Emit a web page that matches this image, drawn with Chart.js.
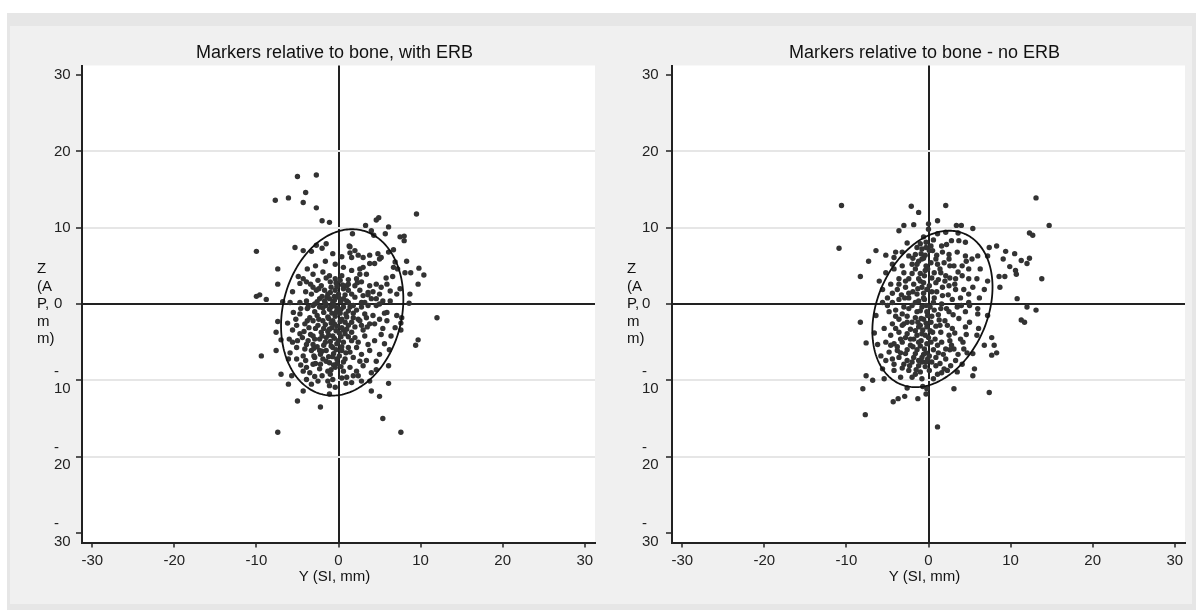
<!DOCTYPE html>
<html>
<head>
<meta charset="utf-8">
<title>Markers relative to bone</title>
<script src="https://cdn.jsdelivr.net/npm/chart.js"></script>
<style>
body { margin: 0; background: #fff; font-family: "Liberation Sans", Arial, sans-serif; }
#frame { position: absolute; left: 7px; top: 13px; width: 1189px; height: 597px; background: #e6e6e6; }
#inner { position: absolute; left: 10px; top: 26px; width: 1182px; height: 578px; background: #f0f0f0; }
.panel { position: absolute; top: 26px; height: 578px; }
#leftPanel { left: 10px; width: 590px; }
#rightPanel { left: 600px; width: 592px; }
</style>
</head>
<body>
<div id="frame"></div>
<div id="inner"></div>
<div class="panel" id="leftPanel"><canvas id="chartErb"></canvas></div>
<div class="panel" id="rightPanel"><canvas id="chartNoErb"></canvas></div>
<script>
var axisTicks = [-30, -20, -10, 0, 10, 20, 30];
var axisMin = -31.25;
var axisMax = 31.25;
var panelTitles = ['Markers relative to bone, with ERB', 'Markers relative to bone - no ERB'];
var xTitle = 'Y (SI, mm)';
var yTitleLines = ['Z', '(A', 'P,', 'm', 'm)'];

// marker offsets [Y, Z] in mm, with ERB
var erbPoints = [
  [-5.0,16.7],[-2.7,16.9],[-4.0,14.6],[-7.7,13.6],[-6.1,13.9],[-4.3,13.3],[-2.7,12.6],[-2.0,10.9],[-1.1,10.7],
  [9.5,11.8],[4.6,11.0],[4.9,11.3],[3.3,10.3],[4.0,9.6],[6.1,10.1],[1.7,9.2],[7.5,8.8],[8.0,8.9],[8.0,8.3],
  [5.7,9.2],[4.3,9.0],[-10.0,6.9],[-7.4,4.6],[8.3,5.6],[8.8,4.1],[9.8,4.7],[10.4,3.8],[8.1,4.1],
  [6.7,7.1],[6.6,3.6],[5.2,6.1],[-3.3,6.9],[-2.0,7.3],[1.3,7.6],
  [-5.3,7.4],[-4.3,7.0],[-2.7,7.7],[-1.5,7.9],[-0.7,6.6],[0.4,6.2],[1.4,7.5],[1.4,6.7],[2.0,7.0],[1.6,6.1],
  [2.4,6.4],[3.0,6.1],[3.8,6.4],[4.8,6.6],[5.0,5.9],[4.4,5.3],[3.8,5.3],[6.1,6.8],[6.9,5.5],[6.7,4.8],[7.2,4.6],
  [-3.1,3.9],[-1.9,4.2],[-4.9,3.6],[-4.3,3.3],[-4.7,2.7],[-3.9,2.9],[-2.5,3.1],[-1.5,3.4],[-1.1,3.7],[-0.4,3.3],
  [0.2,3.1],[0.4,3.7],[1.2,3.2],[1.6,4.4],[2.6,4.6],[2.6,3.9],[3.4,3.9],[2.2,3.3],[2.8,2.9],[2.0,2.4],[3.8,2.4],
  [4.6,2.6],[5.2,2.2],[5.9,2.6],[6.3,1.7],[7.1,1.3],[7.5,2.0],[5.0,1.3],[4.6,0.7],[5.4,0.4],[6.3,0.4],
  [-3.1,2.2],[-2.7,1.8],[-2.1,2.4],[-1.7,1.8],[-1.3,1.3],[-0.9,2.2],[-0.4,1.8],[0.0,1.3],[0.6,2.0],[1.0,2.4],
  [1.2,1.8],[1.6,1.3],[2.0,0.9],[2.6,1.8],[3.0,1.1],[3.6,1.5],[4.0,0.7],[-3.3,1.3],[-3.9,0.4],[-2.3,0.7],
  [-1.7,0.4],[-1.1,0.7],[-0.7,0.2],[0.6,0.7],[1.2,0.2],[2.8,0.2],[3.2,0.2],[-5.9,0.2],[-4.7,0.2],
  [-5.5,-1.1],[-4.7,-1.3],[-3.7,-0.4],[-3.1,-0.2],[-2.3,-0.4],[-1.5,-0.2],[-1.1,-0.7],[-0.7,-0.2],[-0.2,-0.9],
  [0.6,-0.4],[1.2,-0.9],[1.8,-0.2],[2.8,-0.4],[3.6,-0.2],[4.6,-0.2],[5.0,0.0],[3.2,-1.3],[4.2,-1.5],[5.0,-2.0],
  [5.9,-2.2],[7.1,-1.5],[6.9,-3.1],[5.9,-1.1],[-5.1,-2.8],[-4.1,-2.6],[-4.7,-3.9],[-3.1,-2.2],[-2.5,-2.8],
  [-1.9,-2.2],[-1.3,-1.7],[-0.7,-2.2],[0.4,-2.0],[1.0,-1.7],[1.6,-2.4],[2.4,-2.0],[2.8,-2.8],[3.8,-2.6],
  [1.2,-2.8],[0.4,-3.1],[-1.1,-3.3],[-2.1,-3.7],[-3.1,-4.2],[-3.7,-4.8],[-3.9,-5.3],[-3.1,-5.3],[-2.3,-4.6],
  [-1.5,-4.4],[-0.7,-4.2],[0.0,-4.8],[0.8,-3.9],[1.6,-3.7],[2.0,-4.4],[3.2,-4.2],[3.6,-5.3],[2.2,-5.7],
  [1.2,-5.7],[0.4,-6.1],[-0.7,-5.7],[-1.5,-6.1],[-2.3,-6.1],[-3.3,-6.1],[-4.1,-5.9],[-5.1,-5.7],[-5.9,-6.4],
  [-6.1,-7.2],[-5.1,-7.2],[-4.3,-6.8],[-2.9,-7.0],[-1.9,-7.2],[-1.1,-7.7],[-0.2,-7.2],[0.8,-7.2],[1.8,-7.0],
  [2.8,-6.6],[3.8,-6.1],[5.0,-6.6],[4.6,-7.5],[6.1,-8.1],[-3.9,-8.3],[-3.1,-7.9],[-4.3,-8.8],[-2.3,-8.5],
  [-1.3,-8.8],[-0.4,-8.3],[0.6,-8.8],[1.4,-8.3],[2.2,-8.8],[3.0,-8.1],[4.0,-9.0],[-3.9,-9.9],[-2.5,-10.1],
  [-1.3,-10.1],[-0.7,-9.9],[1.0,-9.6],[1.6,-10.3],[2.8,-10.1],[3.8,-10.1],[-5.7,-9.4],[-6.1,-10.5],[-3.3,-10.5],
  [-1.1,-10.7],[-0.4,-10.9],[6.1,-10.4],[-7.0,-9.2],
  [-7.4,2.6],[-10.0,1.0],[-9.6,1.2],[-8.8,0.6],[-6.8,0.3],[-7.4,-2.3],[-7.6,-3.7],[-7.0,-4.7],[-7.6,-6.1],
  [-9.4,-6.8],[-5.0,-12.7],[-2.2,-13.5],[-7.4,-16.8],[7.6,-16.8],[5.4,-15.0],[5.0,-12.1],[4.0,-11.4],[9.7,2.6],
  [12.0,-1.8],[9.7,-4.7],[9.4,-5.4],[8.7,1.3],[8.6,0.1],[7.7,-1.8],[7.6,-2.5],[7.6,-3.4],[-4.3,-11.4],[-1.1,-11.8],
  [-0.3,2.8],[0.5,2.5],[-1.0,2.9],[-2.0,1.0],[-1.4,0.9],[-0.5,1.0],[0.3,0.4],[-0.2,-0.5],[-0.8,-1.2],[-1.8,-1.1],
  [-2.6,-1.5],[-3.5,-1.8],[-0.4,-1.6],[0.2,-1.2],[0.9,-1.3],[1.8,-1.2],[2.2,-0.8],[-1.6,-2.7],[-0.9,-2.5],
  [-0.2,-2.9],[0.8,-2.4],[-2.8,-3.2],[-3.6,-3.1],[-1.3,-3.6],[-0.3,-3.5],[0.6,-3.4],[1.2,-4.3],[-2.0,-4.2],
  [-2.9,-4.6],[-1.0,-4.9],[-0.2,-5.2],[0.6,-5.0],[-1.8,-5.4],[-2.6,-5.6],[-3.4,-4.0],[-4.2,-3.6],[-0.6,-6.5],
  [0.1,-6.8],[-1.2,-6.9],[-2.2,-6.6],[-3.0,-6.8],[-0.2,-7.8],[0.6,-7.6],[1.4,-6.3],[2.4,-5.0],[3.0,-3.4],
  [2.6,-2.2],[3.4,-1.8],[4.4,-2.6],[3.6,1.2],[2.3,2.8],[1.2,2.6],[-2.4,2.0],[-3.4,2.6],[-4.0,1.6],[-4.6,-0.6],
  [-5.2,-2.0],[-5.6,-3.4],[-6.0,-4.6],[-5.0,-4.8],[-4.6,-8.0],[-3.5,-9.0],[-2.0,-9.4],[1.8,-9.4],[4.6,-8.6],
  [5.6,-5.2],[6.4,-4.2],[5.4,-3.2],[0.0,0.9],[-0.6,-0.2],[1.0,0.4],[-1.6,0.1],[-2.9,0.0],[-3.8,-0.6],[2.0,-3.0],
  [-0.9,-8.6],[0.4,-9.7],[-2.8,-7.8],[3.4,-7.4],
  [-0.5,0.5],[-0.9,-0.4],[-0.3,-1.1],[0.3,-0.7],[-1.2,-1.9],[-0.5,-2.6],[0.2,-2.3],[-0.8,-3.1],[0.1,-3.8],
  [-0.5,-4.5],[-1.2,-4.1],[0.3,-4.3],[-0.9,-5.5],[-0.3,-6.0],[0.4,-5.6],[-1.6,-5.0],[-0.7,-6.9],[-1.5,-7.5],
  [-0.6,-8.0],[0.3,-8.2],[-2.2,-7.9],[-1.8,-3.2],[-2.4,-2.0],[-2.9,-1.0],[-1.9,-0.5],[-2.6,0.3],[-1.0,1.5],
  [-0.2,2.3],[0.8,1.2],[1.4,-0.4],[1.8,-1.8],[1.0,-3.3],[1.6,-4.8],[0.9,-6.4],[-3.8,-2.2],[-4.4,-4.4],
  [-3.0,-5.8],[-2.0,-6.2],[2.6,-7.5],[3.5,-3.0],[-5.6,-5.0],[-4.0,-7.4],[-1.0,-9.2],[0.9,-10.4],[2.4,-9.4],
  [-2.9,-9.5],[4.4,-4.8],[5.2,-4.0],[6.2,-6.0],[5.6,-1.2],[4.2,1.6],[5.8,3.4],[3.0,4.8],[0.6,4.8],[-0.4,5.2],
  [-1.6,5.6],[-2.8,5.0],[-3.8,4.6],[-5.6,1.6],[-6.2,-2.5]
];

// marker offsets [Y, Z] in mm, no ERB
var noErbPoints = [
  [-10.6,12.9],[-10.9,7.3],[-8.3,3.6],[-7.3,5.6],[-2.1,12.8],[-1.2,12.0],[2.1,12.9],[1.1,10.9],[8.3,7.6],
  [9.4,6.9],[10.5,6.6],[9.1,5.9],[9.9,4.9],[10.6,4.4],[8.6,3.6],[9.3,3.6],[8.7,2.2],[10.8,0.7],[11.3,5.7],
  [13.1,13.9],[14.7,10.3],[12.3,9.3],[12.7,9.0],[13.8,3.3],[13.1,-0.8],[12.0,-0.4],[11.3,-2.1],[11.7,-2.4],
  [12.3,6.0],[12.0,5.3],[10.7,3.9],
  [-3.0,10.3],[-1.8,10.4],[0.0,9.8],[0.0,10.5],[-3.6,9.6],[3.4,10.3],[4.0,10.3],[5.4,9.9],[1.1,9.2],[2.1,9.4],
  [3.6,9.3],[2.8,8.3],[3.7,8.3],[4.5,8.1],[-1.0,7.9],[-0.3,8.1],[0.3,7.6],[-0.8,7.2],[0.1,7.0],[-1.6,6.5],
  [-2.4,6.3],[-3.2,6.8],[-4.2,6.1],[-4.0,6.8],[-6.4,7.0],[7.4,7.4],[7.2,6.3],[1.7,6.8],[2.5,6.5],[3.5,6.8],
  [4.5,6.3],[5.3,5.9],[6.0,6.3],[0.9,5.9],[-0.8,5.9],[-2.0,5.2],[-3.2,5.0],[-4.4,5.2],[-4.2,4.6],[-5.2,4.1],
  [-3.0,4.1],[-1.6,4.6],[-0.3,5.0],[0.3,5.4],[1.1,5.2],[1.9,5.4],[2.5,5.9],[3.1,5.0],[4.1,5.0],[4.9,4.6],
  [6.3,4.6],[5.9,3.3],[4.9,3.3],[4.1,3.7],[3.3,3.3],[2.1,3.7],[1.5,4.1],[0.7,4.1],[-0.5,3.7],[-1.2,3.3],
  [-2.4,3.3],[-3.6,3.3],[-4.6,2.6],[-5.6,1.9],[-3.8,1.9],[-2.8,2.2],[-1.8,2.6],[-0.8,2.2],[0.1,2.4],[0.9,2.8],
  [1.7,2.2],[2.5,2.4],[3.3,1.9],[4.3,1.9],[5.4,2.2],[6.8,1.9],[7.2,3.0],[-5.0,0.8],[-3.6,0.6],[-2.4,0.8],
  [-1.4,1.3],[-0.5,0.6],[0.7,0.8],[1.7,1.1],[2.9,0.6],[3.9,0.8],[4.9,1.3],[6.2,0.8],[-5.6,0.2],[-4.4,0.2],
  [-1.6,0.2],[4.9,0.2],
  [-6.4,-1.5],[-5.0,-0.2],[-4.0,-0.8],[-3.2,-1.3],[-2.4,-0.6],[-1.4,-1.0],[-0.8,-0.4],[-0.1,-1.5],[0.7,-0.8],
  [1.5,-0.6],[2.5,-1.0],[3.5,-0.4],[4.5,-1.0],[6.0,-1.3],[7.2,-1.5],[6.0,-0.6],[-4.4,-2.6],[-3.2,-2.8],
  [-2.0,-2.4],[-1.0,-2.8],[0.3,-2.4],[1.3,-2.1],[2.3,-2.8],[2.9,-3.2],[4.5,-3.0],[3.7,-1.9],[5.9,-4.1],
  [6.8,-5.4],[3.9,-4.6],[2.5,-4.1],[1.5,-3.7],[0.5,-3.7],[-0.8,-3.9],[-1.6,-3.5],[-2.6,-3.9],[-3.6,-3.7],
  [-4.6,-4.1],[-5.2,-5.0],[-4.2,-5.2],[-3.2,-5.0],[-2.2,-5.4],[-1.2,-5.0],[-0.5,-5.9],[0.3,-5.0],[1.1,-5.4],
  [2.1,-5.9],[3.1,-5.9],[4.3,-5.9],[5.4,-6.5],[-4.8,-6.3],[-3.8,-6.1],[-2.8,-6.5],[-1.6,-6.5],[-0.8,-7.0],
  [0.1,-6.8],[0.9,-7.0],[2.1,-7.2],[3.3,-7.4],[4.1,-7.9],[-5.2,-7.4],[-4.2,-7.9],[-3.0,-7.9],[-2.0,-7.6],
  [-1.2,-8.1],[-0.3,-7.6],[0.9,-8.1],[1.9,-8.5],[2.7,-8.1],[3.5,-8.9],[2.3,-8.7],[-5.6,-8.5],[-4.2,-8.7],
  [-2.4,-8.7],[-1.0,-8.9],[0.1,-8.7],[1.1,-9.2],[-3.4,-9.6],[-2.0,-9.6],[-0.8,-9.8],[-5.4,-9.8],[-6.8,-10.0],
  [5.6,-8.5],[5.4,-9.4],
  [-8.3,-2.4],[-7.6,-5.1],[-7.6,-9.4],[-8.0,-11.1],[-7.7,-14.5],[-4.3,-12.8],[-3.7,-12.4],[-2.9,-12.1],
  [-1.3,-12.4],[-0.3,-11.8],[1.1,-16.1],[3.1,-11.1],[7.4,-11.6],[8.0,-5.4],[8.3,-6.4],[7.7,-4.4],[7.7,-6.7],
  [-2.6,-11.0],[-0.7,-10.8],[-0.2,-11.1],[-6.2,-5.3],[4.7,-6.4],[6.1,-3.2],
  [-0.4,4.4],[-1.0,3.0],[-1.9,1.6],[-0.6,1.4],[0.4,1.6],[-1.2,0.4],[-0.3,-0.2],[0.6,0.2],[-2.0,-0.2],[-2.9,0.8],
  [-1.6,-1.8],[-0.6,-2.0],[0.4,-1.6],[1.2,-1.4],[-2.6,-1.6],[-3.6,-2.0],[-1.2,-3.0],[-0.2,-3.0],[0.9,-2.9],
  [-2.2,-3.3],[-1.8,-4.6],[-0.9,-4.8],[0.0,-4.4],[0.8,-4.6],[-2.8,-4.4],[-3.8,-5.6],[-2.6,-6.0],[-1.4,-6.0],
  [-0.3,-6.4],[0.6,-6.0],[1.6,-5.0],[-1.8,-7.0],[-0.8,-7.6],[0.4,-7.6],[1.4,-7.8],[-2.6,-7.4],[-3.6,-7.0],
  [1.8,-6.6],[2.6,-4.8],[3.2,-3.8],[2.0,-2.2],[3.0,-1.4],[1.6,0.0],[2.4,1.2],[1.2,3.2],[0.4,3.4],[-1.4,5.2],
  [-0.4,6.4],[0.5,7.0],[-0.9,6.6],[-2.0,4.0],[-2.8,3.0],[-3.6,2.6],[-4.4,1.4],[-4.8,-1.0],[-5.4,-3.2],
  [-4.0,-3.2],[-3.0,-2.6],[3.6,4.2],[2.6,5.0],[1.6,7.6],[4.0,-0.2],[5.0,-2.4],[4.2,-5.0],[-3.2,-8.4],
  [-1.6,-9.2],[0.6,-9.8],[2.6,-6.0],
  [-0.6,0.8],[-1.0,-0.9],[-0.2,-1.0],[0.2,-0.4],[-0.9,-1.9],[-0.3,-2.5],[-1.3,-2.4],[-0.7,-3.4],[0.2,-3.5],
  [-1.4,-4.1],[-0.4,-4.1],[-1.0,-5.5],[-0.2,-5.2],[-1.9,-5.6],[-0.6,-6.6],[-1.2,-7.4],[-0.1,-7.2],[-1.5,-8.6],
  [-0.4,-8.2],[-2.3,-8.1],[-0.6,2.8],[-1.3,2.0],[-0.2,1.9],[-1.0,4.0],[-0.1,4.6],[-1.2,5.6],[-0.6,6.0],
  [-1.9,6.0],[-0.3,7.4],[-1.4,7.4],[-0.6,8.8],[0.6,8.4],[1.0,6.4],[1.4,4.6],[2.0,3.0],[2.6,3.4],[1.0,1.6],
  [2.2,-0.6],[1.4,-2.8],[-2.4,1.4],[-3.3,1.2],[-3.0,-0.4],[-4.0,-1.6],[-2.6,-2.4],[-3.4,-4.6],[-2.2,-4.6],
  [-4.6,-5.4],[-4.4,-7.2],[-3.4,-6.4],[1.2,-6.4],[2.8,-5.4],[3.6,-6.6],[1.6,-9.0],[4.6,-4.0],[5.0,-0.2],
  [3.2,2.6],[4.6,5.6],[2.2,7.8],[-2.6,8.0],[-5.2,6.4],[-6.0,3.0],[-6.6,-3.8],[-5.8,-6.8]
];

// ellipse: centre Y, centre Z, half width, half height, covariance term
var erbEllipse = [0.45, -1.1, 7.45, 10.9, 13];
var noErbEllipse = [0.48, -0.65, 7.32, 10.25, 21];

var FONT = '"Liberation Sans", Arial, sans-serif';

// white plot area, titles and the stacked Z label
var panelText = {
  id: 'panelText',
  beforeDraw: function(chart) {
    var a = chart.chartArea, ctx = chart.ctx;
    ctx.save();
    ctx.fillStyle = '#fff';
    ctx.fillRect(a.left, a.top, a.right - a.left, a.bottom - a.top);
    ctx.restore();
  },
  afterDraw: function(chart, args, opts) {
    var a = chart.chartArea, ctx = chart.ctx;
    var mid = (a.left + a.right) / 2 - 4;
    ctx.save();
    ctx.fillStyle = '#111';
    ctx.textAlign = 'center';
    ctx.textBaseline = 'middle';
    ctx.font = '18px ' + FONT;
    ctx.fillText(opts.title, mid, a.top - 12);
    ctx.font = '15px ' + FONT;
    ctx.fillText(xTitle, mid, a.bottom + 34);
    ctx.textAlign = 'left';
    var y0 = chart.scales.y.getPixelForValue(0);
    for (var i = 0; i < yTitleLines.length; i++) {
      ctx.fillText(yTitleLines[i], a.left - 45, y0 + (i - 2) * 17.5);
    }
    ctx.restore();
  }
};

// confidence ellipse drawn through the chart scales
var ellipsePlugin = {
  id: 'ellipse',
  afterDatasetsDraw: function(chart, args, opts) {
    var e = opts.params;
    if (!e) return;
    var sx = chart.scales.x, sy = chart.scales.y, ctx = chart.ctx;
    var a = e[2], k = e[4] / e[2], r = Math.sqrt(e[3] * e[3] - k * k);
    ctx.save();
    ctx.beginPath();
    for (var i = 0; i <= 240; i++) {
      var t = i / 240 * 2 * Math.PI;
      var px = sx.getPixelForValue(e[0] + a * Math.cos(t));
      var py = sy.getPixelForValue(e[1] + k * Math.cos(t) + r * Math.sin(t));
      if (i === 0) ctx.moveTo(px, py); else ctx.lineTo(px, py);
    }
    ctx.closePath();
    ctx.lineWidth = 1.8;
    ctx.strokeStyle = '#111';
    ctx.stroke();
    ctx.restore();
  }
};

function setTicks(scale) {
  scale.ticks = axisTicks.map(function(v) { return { value: v }; });
}

function makeChart(id, points, title, ellipse, padLeft, padRight, yWidth) {
  var ctx = document.getElementById(id).getContext('2d');
  return new Chart(ctx, {
    type: 'scatter',
    data: {
      datasets: [{
        data: points.map(function(p) { return { x: p[0], y: p[1] }; }),
        pointRadius: 2.7,
        pointBackgroundColor: '#333',
        pointBorderWidth: 0,
        pointHoverRadius: 2.7
      }]
    },
    options: {
      responsive: true,
      maintainAspectRatio: false,
      animation: false,
      layout: { padding: { left: padLeft, right: padRight, top: 39.5, bottom: 0 } },
      plugins: {
        legend: { display: false },
        tooltip: { enabled: false },
        panelText: { title: title },
        ellipse: { params: ellipse }
      },
      scales: {
        x: {
          type: 'linear',
          min: axisMin,
          max: axisMax,
          afterBuildTicks: setTicks,
          afterFit: function(s) { s.height = 61.5; },
          border: { color: '#222', width: 2 },
          grid: {
            color: function(c) { return c.tick && c.tick.value === 0 ? '#222' : 'rgba(0,0,0,0)'; },
            lineWidth: 2,
            tickColor: '#222',
            tickLength: 5,
            tickWidth: 1.5
          },
          ticks: {
            padding: 4.5,
            color: '#222',
            maxRotation: 0,
            autoSkip: false,
            font: { family: FONT, size: 15 }
          }
        },
        y: {
          type: 'linear',
          min: axisMin,
          max: axisMax,
          afterBuildTicks: setTicks,
          afterFit: function(s) { s.width = yWidth; },
          border: { color: '#222', width: 2 },
          grid: {
            color: function(c) {
              if (!c.tick) return 'rgba(0,0,0,0)';
              if (c.tick.value === 0) return '#222';
              return Math.abs(c.tick.value) === 30 ? 'rgba(0,0,0,0)' : '#e6e6e6';
            },
            lineWidth: 2,
            tickColor: '#222',
            tickLength: 6,
            tickWidth: 1.5
          },
          ticks: {
            crossAlign: 'far',
            color: '#222',
            autoSkip: false,
            font: { family: FONT, size: 15, lineHeight: 1.15 },
            callback: function(v) { return v < 0 ? ['-', String(-v)] : String(v); }
          }
        }
      }
    },
    plugins: [panelText, ellipsePlugin]
  });
}

makeChart('chartErb', erbPoints, panelTitles[0], erbEllipse, 44, 5, 28);
makeChart('chartNoErb', noErbPoints, panelTitles[1], noErbEllipse, 42, 7, 30);
</script>
</body>
</html>
